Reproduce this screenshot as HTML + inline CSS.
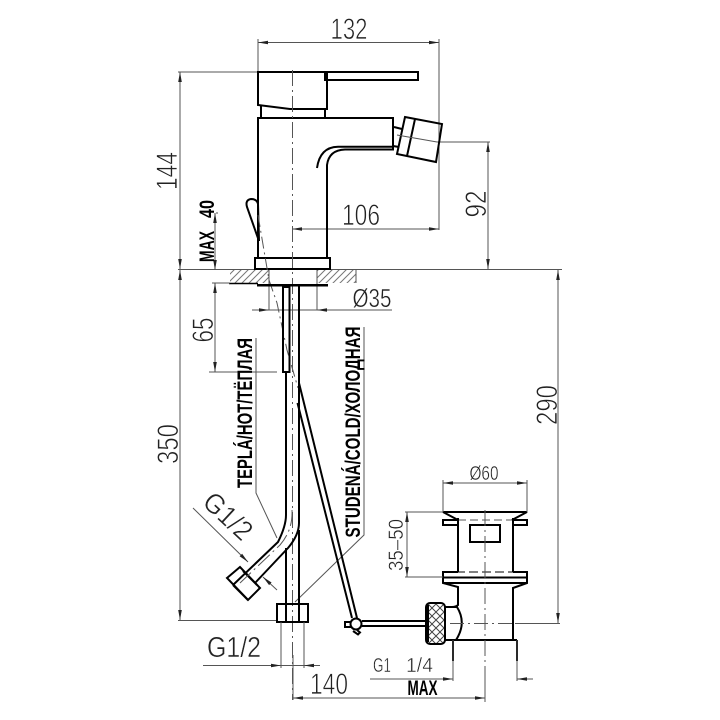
<!DOCTYPE html>
<html><head><meta charset="utf-8"><style>
html,body{margin:0;padding:0;background:#fff}
svg{display:block}
text{font-family:"Liberation Sans Narrow","Liberation Sans",sans-serif;fill:#222}
.d{stroke:#555;stroke-width:1;fill:none}
.a{stroke:#555;stroke-width:1;fill:none;marker-start:url(#m);marker-end:url(#m)}
.e{stroke:#555;stroke-width:1;fill:none;marker-end:url(#m)}
.t{stroke:#000;stroke-width:2;fill:none}
.c{stroke:#555;stroke-width:1;fill:none;stroke-dasharray:16 4 2 4}
.n{font-size:30px;stroke:#fff;stroke-width:.7px;paint-order:normal}
.s{stroke:#fff;stroke-width:.45px}
.b{font-weight:bold;font-size:21px;fill:#000}
</style></head><body>
<svg width="720" height="720" viewBox="0 0 720 720" xmlns="http://www.w3.org/2000/svg">
<defs>
<marker id="m" markerUnits="userSpaceOnUse" markerWidth="12" markerHeight="6" refX="11" refY="3" orient="auto-start-reverse"><polygon points="1,1.2 11,3 1,4.8" fill="#222"/></marker>
<pattern id="h" patternUnits="userSpaceOnUse" width="7" height="7"><path d="M-1,8 L8,-1" stroke="#777" stroke-width="1"/><path d="M-1,1 L1,-1 M6,8 L8,6" stroke="#777" stroke-width="1"/></pattern>
<pattern id="k" patternUnits="userSpaceOnUse" width="8" height="8"><path d="M0,0 L8,8 M8,0 L0,8" stroke="#444" stroke-width="1"/></pattern>
</defs>

<!-- floor -->
<rect x="230" y="270" width="39" height="13" fill="url(#h)"/>
<rect x="317" y="270" width="39" height="13" fill="url(#h)"/>
<path class="d" d="M178,269.5H562M356,270V283M229,283H215"/>
<path d="M229,283.5H258" stroke="#000" stroke-width="1.5"/>

<!-- dimensions -->
<path class="d" d="M258,39V72M439,39V230M178,72H258M437,142H490M209,372H277M212,283H230"/>
<path class="a" d="M258,42.5H439"/>
<path class="a" d="M180,72V269"/>
<path class="a" d="M180,270V620"/>
<path class="d" d="M178,620.5H277"/>
<path class="a" d="M488,142V269"/>
<path class="a" d="M292,229H439"/>
<path class="a" d="M215,213V270"/>
<path class="a" d="M215,283V372"/>
<path class="a" d="M558,270V623"/>
<path class="d" d="M269,270V310M317,270V310M216,213H218"/>
<path class="d" d="M252,310H392"/>
<polygon points="269,310 259,308.3 259,311.7" fill="#222"/>
<polygon points="317,310 327,308.3 327,311.7" fill="#222"/>
<path class="d" d="M256,338V493L277,538"/>
<path class="d" d="M364,327V535L295,602"/>

<!-- faucet -->
<path class="t" d="M258,72H327V109H290L258,105Z"/>
<path class="t" d="M325,72H418V80H325Z" stroke-width="1.8"/>
<path class="t" d="M261,106V118M325,109V118"/>
<path class="t" d="M258,258V118H393V149.5H345Q329,150 327,165V258"/>
<path class="t" stroke-width="1.5" d="M393,146.7H338Q320,147 317,168"/>
<rect class="t" x="255" y="258" width="75" height="11"/>
<path class="t" d="M405,117L442,124L436,162L397,154Z"/>
<path class="t" stroke-width="1.5" d="M415,119L407,156M394,127L402,129M393,146L399,147"/>
<path class="d" d="M397,135L437,142"/>
<path class="t" d="M259,241L247,207Q245,200 251,199Q257,199 258,204L259,241"/>
<path d="M258,215L269,280L277,303L287,350L298,388" stroke="#555" fill="none" stroke-dasharray="12 4 2 4"/>
<path class="c" d="M292.5,70V700"/>

<!-- plate and pipes -->
<rect x="257" y="284" width="71" height="2.5" fill="#000"/>
<rect class="t" x="283" y="287" width="6.5" height="85"/>
<path class="t" d="M299,286V523Q299,535 288,548L255,583"/>
<path class="t" d="M286,372V515Q286,526 278,542L233,585"/>
<path class="t" d="M286,548V604M299,530V604"/>
<rect class="t" x="277" y="604" width="31" height="18"/>
<path class="t" stroke-width="1.5" d="M286,604V622M299,604V622"/>
<polygon class="t" points="227,578 240,567 260,588 248,600"/>
<path class="t" d="M233,585L248,600M243,571L257,585"/>
<path class="c" d="M292,510Q293,530 280,545L240,583"/>
<path class="e" d="M193,508L248,562"/>
<path class="e" d="M277,590L263,577"/>

<!-- hose -->
<path class="t" stroke-width="1.8" d="M297.5,403L352,618M299,383L357,618"/>
<circle class="t" cx="356" cy="624" r="5.5" fill="#fff"/>
<path class="t" stroke-width="1.5" d="M351,622H345V627H351M357,630L360,632.5L358,634.5L353,631"/>
<path class="t" d="M362,621H426M362,626H426"/>

<!-- knob -->
<rect x="426" y="603" width="19" height="41" rx="4" fill="url(#k)" stroke="#000" stroke-width="2"/>
<path class="t" stroke-width="3" d="M428,605V642"/>
<path class="t" d="M445,607H457Q467,623 456,640H445"/>
<path class="t" stroke-width="1.5" d="M445,607V640"/>

<!-- trap -->
<path class="t" d="M443,512H527L512,520M443,512L458,520"/>
<path class="d" stroke-dasharray="8 4" d="M458,520H512"/>
<path class="t" d="M458,520H443V525H458M512,520H527V525H512"/>
<path class="t" d="M458,518V572M513,518V572"/>
<rect class="t" x="470" y="525" width="30" height="17"/>
<path class="t" d="M458,572H443V583L458,587V605Q456,607 452,607M513,572H527V583L513,588V640"/>
<path class="t" d="M443,577.5H527M443,583H527M453,640H517"/>
<path d="M443,572H527" stroke="#000" stroke-dasharray="9 4" fill="none"/>
<path class="t" d="M453,640V661M517,640V661"/>
<path class="c" d="M485,510V702"/>
<path class="d" stroke-dasharray="14 4 2 4" d="M450,623.5H515"/>
<path class="d" d="M515,623.5H560"/>

<path class="d" d="M443,480V512M527,480V512"/>
<path class="a" d="M443,483H527"/>
<path class="d" d="M405,512H443M405,577H443"/>
<path class="a" d="M407,512V577"/>
<path class="d" d="M370,679H453M517,679H533M453,640V681M517,640V681"/>
<polygon points="453,679 443,677.3 443,680.7" fill="#222"/>
<polygon points="517,679 527,677.3 527,680.7" fill="#222"/>
<path class="d" d="M281,622V668M304,622V668M203,665.5H320"/>
<polygon points="281,665.5 271,663.8 271,667.2" fill="#222"/>
<polygon points="304,665.5 314,663.8 314,667.2" fill="#222"/>
<path class="d" d="M293,655V700"/>
<path class="a" d="M293,698H485"/>
<path class="d" d="M485,680V702"/>

<!-- labels -->
<text class="n" x="349" y="39" text-anchor="middle" textLength="37" lengthAdjust="spacingAndGlyphs">132</text>
<text class="n" x="361" y="225" text-anchor="middle" textLength="38" lengthAdjust="spacingAndGlyphs">106</text>
<text class="n" transform="translate(177,171) rotate(-90)" text-anchor="middle" textLength="38" lengthAdjust="spacingAndGlyphs">144</text>
<text class="n" transform="translate(486,204) rotate(-90)" text-anchor="middle" textLength="27" lengthAdjust="spacingAndGlyphs">92</text>
<text class="n" transform="translate(178,444) rotate(-90)" text-anchor="middle" textLength="40" lengthAdjust="spacingAndGlyphs">350</text>
<text class="n" transform="translate(557,405) rotate(-90)" text-anchor="middle" textLength="40" lengthAdjust="spacingAndGlyphs">290</text>
<text class="n" transform="translate(213,330) rotate(-90)" text-anchor="middle" textLength="25" lengthAdjust="spacingAndGlyphs">65</text>
<text class="s" x="372" y="307" text-anchor="middle" font-size="26" textLength="39" lengthAdjust="spacingAndGlyphs">Ø35</text>
<text class="b" transform="translate(214,262) rotate(-90)" textLength="31" lengthAdjust="spacingAndGlyphs">MAX</text>
<text class="b" transform="translate(214,218) rotate(-90)" textLength="18" lengthAdjust="spacingAndGlyphs">40</text>
<text class="b" transform="translate(252,413) rotate(-90)" text-anchor="middle" textLength="150" lengthAdjust="spacingAndGlyphs">TEPLÁ/HOT/ТЁПЛАЯ</text>
<text class="b" transform="translate(360,432) rotate(-90)" text-anchor="middle" textLength="211" lengthAdjust="spacingAndGlyphs">STUDENÁ/COLD/ХОЛОДНАЯ</text>
<text class="s" x="484" y="480" text-anchor="middle" font-size="20" textLength="29" lengthAdjust="spacingAndGlyphs">Ø60</text>
<text class="s" transform="translate(403,545) rotate(-90)" text-anchor="middle" font-size="21" textLength="52" lengthAdjust="spacingAndGlyphs">35–50</text>
<text class="s" transform="translate(201,504) rotate(43)" font-size="28" textLength="56" lengthAdjust="spacingAndGlyphs">G1/2</text>
<text class="s" x="234" y="657" text-anchor="middle" font-size="29" textLength="54" lengthAdjust="spacingAndGlyphs">G1/2</text>
<text class="s" x="373" y="672" font-size="20" textLength="18" lengthAdjust="spacingAndGlyphs">G1</text>
<text class="s" x="406" y="672" font-size="20" textLength="27" lengthAdjust="spacingAndGlyphs">1/4</text>
<text class="n" x="329" y="694" text-anchor="middle" textLength="38" lengthAdjust="spacingAndGlyphs">140</text>
<text x="422.5" y="695" text-anchor="middle" font-size="21" font-weight="bold" style="fill:#000" textLength="30" lengthAdjust="spacingAndGlyphs">MAX</text>
</svg>
</body></html>
